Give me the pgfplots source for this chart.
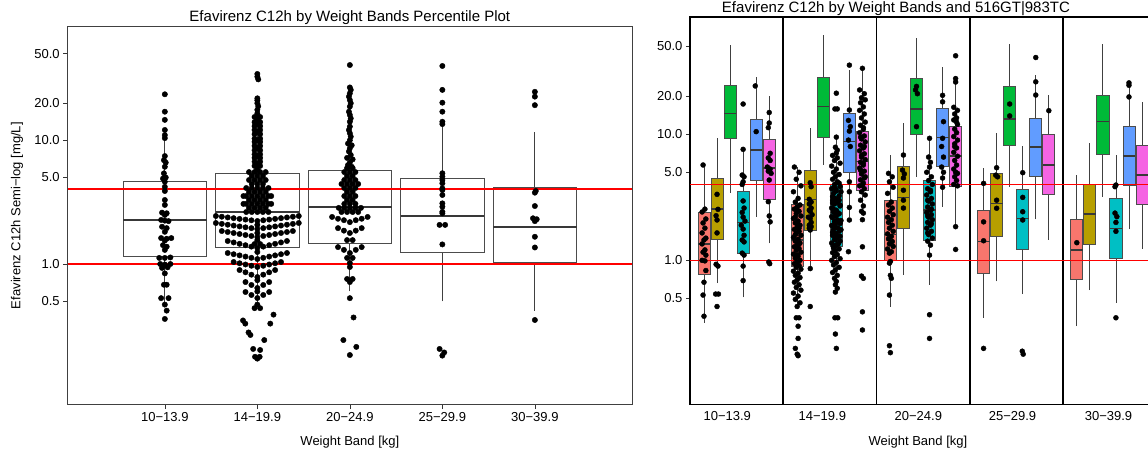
\documentclass[border=0pt]{standalone}
\usepackage{fontspec}
\setmainfont{Liberation Sans}
\usepackage{pgfplots}
\pgfplotsset{compat=1.18}
\definecolor{gtred}{HTML}{F8766D}
\definecolor{gtolive}{HTML}{B79F00}
\definecolor{gtgreen}{HTML}{00BA38}
\definecolor{gtcyan}{HTML}{00BFC4}
\definecolor{gtblue}{HTML}{619CFF}
\definecolor{gtmag}{HTML}{F564E3}
\definecolor{refline}{RGB}{255,0,0}
\newcommand{\tickfont}{\fontsize{13}{15}\selectfont}
\newcommand{\titlefont}{\fontsize{15}{18}\selectfont}
% box with whiskers: fill, position, half width, lw, q1, median, q3, uw, median line width
\newcommand{\bx}[9]{%
  \pgfmathsetmacro\xa{#2-#3}\pgfmathsetmacro\xb{#2+#3}%
  \addplot[draw=black!75, line width=0.8pt] coordinates {(#2,#4) (#2,#5)};
  \addplot[draw=black!75, line width=0.8pt] coordinates {(#2,#7) (#2,#8)};
  \addplot[draw=black!70, fill=#1, line width=0.8pt] coordinates {(\xa,#5) (\xb,#5) (\xb,#7) (\xa,#7)} --cycle;
  \addplot[draw=black!78, line width=#9] coordinates {(\xa,#6) (\xb,#6)};
}
\newcommand{\gbox}[7]{\bx{#1}{#2}{0.065}{#3}{#4}{#5}{#6}{#7}{1.6pt}}
\begin{document}
\begin{tikzpicture}
\pgfplotsset{
  every tick label/.append style={font=\tickfont},
  /pgf/number format/assume math mode=true,
  every axis title shift=0pt,
}
% ---------------- left panel ----------------
\begin{axis}[
  scale only axis, width=564.3pt, height=377.8pt, at={(67.7pt,46.5pt)}, anchor=south west,
  ymode=log, ymin=0.0733, ymax=82.6, xmin=-0.05, xmax=6.05,
  xtick={1,2,3,4,5}, xticklabels={10−13.9,14−19.9,20−24.9,25−29.9,30−39.9},
  ytick={0.5,1,5,10,20,50}, yticklabels={0.5,1.0,5.0,10.0,20.0,50.0},
  yminorticks=false, tick align=outside, xtick pos=bottom, ytick pos=left,
  major tick length=4.5pt, tick style={black!80, line width=0.6pt},
  axis line style={black!75, line width=0.8pt},
  title={Efavirenz C12h by Weight Bands Percentile Plot},
  title style={font=\titlefont, at={(axis description cs:0.5,1.0132)}, anchor=base},
  xlabel={Weight Band [kg]},
  xlabel style={font=\tickfont, at={(axis description cs:0.5,-0.1072)}, anchor=base},
  ylabel={Efavirenz C12h Semi−log [mg/L]},
  ylabel style={font=\tickfont, at={(axis description cs:-0.0898,0.5)}, anchor=center},
]
\bx{none}{1}{0.452}{0.47}{1.16}{2.28}{4.66}{10.4}{2.2pt}
\bx{none}{2}{0.452}{0.45}{1.35}{2.63}{5.36}{15.5}{2.2pt}
\bx{none}{3}{0.452}{0.6}{1.46}{2.87}{5.71}{14}{2.2pt}
\bx{none}{4}{0.452}{0.5}{1.23}{2.46}{4.92}{13.7}{2.2pt}
\bx{none}{5}{0.452}{0.42}{1.04}{2.0}{4.13}{11.6}{2.2pt}
\addplot[draw=refline, line width=2pt] coordinates {(-0.05,4) (0.5,4) (1.5,4) (2.5,4) (3.5,4) (4.5,4) (6.05,4)};

% 10-13.9
\addplot[only marks, mark=*, mark size=2.7pt, black] coordinates {
(1.00,23.5) (1.00,17.0) (1.00,14.6) (1.00,12.1) (1.00,11.0) (1.00,10.4) (1.00,7.45) (0.99,6.9)
(1.01,6.6) (1.00,6.1) (0.99,5.4) (1.01,5.0) (0.98,4.9) (1.00,4.62) (1.00,4.2) (1.00,3.89)
(1.00,3.29) (1.00,3.0) (0.97,2.6) (1.02,2.57) (1.0,2.49) (0.96,2.27) (1.00,2.24) (1.04,2.22)
(0.97,2.0) (1.02,1.95) (1.0,1.82) (0.96,1.62) (1.02,1.6) (1.07,1.62) (1.0,1.55) (0.98,1.42)
(1.02,1.38) (1.0,1.3) (0.94,1.12) (1.0,1.12) (1.06,1.13) (0.95,1.0) (1.0,0.99) (1.06,1.0)
(0.97,0.93) (1.03,0.94) (1.0,0.84) (0.99,0.68) (1.02,0.68) (0.96,0.53) (1.04,0.53) (1.0,0.47)
(1.02,0.42) (1.0,0.36)
};
% 14-19.9
\addplot[only marks, mark=*, mark size=2.7pt, black] coordinates {
(2.00,34.3) (2.00,32.6) (2.01,31.0)
(2.00,21.8) (2.00,21.0) (2.00,19.9) (2.01,18.8) (2.00,17.6) (2.00,16.5) (1.97,15.4) (2.03,15.4) (2.00,14.9)
(1.97,14.0) (2.03,14.0) (1.97,13.0) (2.03,13.0) (1.97,12.1) (2.03,12.1) (1.97,11.2) (2.03,11.2)
(1.97,10.3) (2.03,10.3) (1.97,9.7) (2.03,9.7) (1.97,9.0) (2.03,9.0) (1.97,8.3) (2.03,8.3)
(1.97,7.7) (2.03,7.7) (1.97,7.2) (2.03,7.2) (1.97,6.7) (2.03,6.7) (1.97,6.2) (2.03,6.2)
(2.00,13.5) (2.00,11.7) (2.00,10.0) (2.00,8.6) (2.00,7.45) (2.00,6.45) (2.00,5.8)
(1.91,5.53) (1.97,5.53) (2.03,5.53) (2.09,5.53)
(1.94,5.14) (2.00,5.14) (2.06,5.14)
(1.91,4.77) (1.97,4.77) (2.03,4.77) (2.09,4.77)
(1.94,4.43) (2.00,4.43) (2.06,4.43)
(1.88,4.11) (1.94,4.11) (2.00,4.11) (2.06,4.11) (2.12,4.11)
(1.91,3.82) (1.97,3.82) (2.03,3.82) (2.09,3.82)
(1.85,3.54) (1.88,3.54) (1.94,3.54) (2.00,3.54) (2.06,3.54) (2.12,3.54) (2.15,3.54)
(1.91,3.29) (1.97,3.29) (2.03,3.29) (2.09,3.29)
(1.85,3.06) (1.88,3.06) (1.94,3.06) (2.00,3.06) (2.06,3.06) (2.12,3.06) (2.15,3.06)
(1.91,2.84) (1.97,2.84) (2.03,2.84) (2.09,2.84)
(1.88,2.63) (1.94,2.63) (2.00,2.63) (2.06,2.63) (2.12,2.63)
(2.000,2.225) (1.936,2.255) (2.064,2.255) (1.872,2.285) (2.128,2.285) (1.808,2.315) (2.192,2.315)
(1.744,2.346) (2.256,2.346) (1.680,2.378) (2.320,2.378) (1.616,2.410) (2.384,2.410) (1.552,2.442) (2.448,2.442)
(2.000,1.918) (1.936,1.949) (2.064,1.949) (1.872,1.980) (2.128,1.980) (1.808,2.012) (2.192,2.012)
(1.744,2.044) (2.256,2.044) (1.680,2.077) (2.320,2.077) (1.616,2.110) (2.384,2.110) (1.552,2.144) (2.448,2.144)
(2.000,1.652) (1.936,1.684) (2.064,1.684) (1.872,1.715) (2.128,1.715) (1.808,1.747) (2.192,1.747)
(1.744,1.780) (2.256,1.780) (1.680,1.814) (2.320,1.814) (1.616,1.847) (2.384,1.847)
(2.000,1.347) (1.936,1.382) (2.064,1.382) (1.872,1.419) (2.128,1.419) (1.808,1.456) (2.192,1.456)
(1.744,1.494) (2.256,1.494) (1.680,1.534) (2.320,1.534)
(2.000,1.097) (1.936,1.122) (2.064,1.122) (1.872,1.148) (2.128,1.148) (1.808,1.174) (2.192,1.174)
(1.744,1.200) (2.256,1.200) (1.680,1.227) (2.320,1.227)
(2.000,0.946) (1.936,0.968) (2.064,0.968) (1.872,0.991) (2.128,0.991) (1.808,1.014) (2.192,1.014)
(1.744,1.038) (2.256,1.038)
(2.000,0.785) (1.936,0.820) (2.064,0.820) (1.872,0.857) (2.128,0.857) (1.808,0.894) (2.192,0.894)
(2.000,0.640) (1.936,0.677) (2.064,0.677) (1.872,0.715) (2.128,0.715)
(2.000,0.531) (1.936,0.562) (2.064,0.562) (1.872,0.594) (2.128,0.594)
(2.0,2.07) (2.0,1.78) (2.0,1.56) (1.97,1.45) (2.03,1.45) (2.0,1.25) (2.0,0.74) (2.0,0.60)
(2.00,0.47) (1.97,0.44) (2.03,0.44) (1.845,0.35) (1.87,0.33) (2.14,0.33) (2.175,0.39)
(1.905,0.28) (1.925,0.267) (2.075,0.243) (1.955,0.206) (2.03,0.202) (1.975,0.178) (2.00,0.172) (2.025,0.178)
};
% 20-24.9
\addplot[only marks, mark=*, mark size=2.7pt, black] coordinates {
(3.00,40.5)
(3.00,26.7) (3.01,25.5) (3.00,23.9) (2.99,22.5) (3.00,21.1) (3.01,19.9) (3.00,18.7) (2.99,17.0)
(3.00,16.0) (3.01,15.0) (3.00,14.1) (3.00,12.9) (2.99,12.1) (3.00,11.4) (3.01,10.7) (3.00,10.0)
(2.98,9.4) (3.02,9.1) (3.00,8.6) (2.99,8.1) (3.01,7.6) (2.97,7.2) (3.03,7.0) (3.00,6.6) (2.98,6.3) (3.02,6.1)
(2.97,5.96) (3.03,5.96)
(2.94,5.53) (3.00,5.53) (3.06,5.53)
(2.97,5.14) (3.03,5.14)
(2.94,4.77) (3.00,4.77) (3.06,4.77)
(2.91,4.43) (2.97,4.43) (3.03,4.43) (3.09,4.43)
(2.94,4.11) (3.00,4.11) (3.06,4.11)
(2.97,3.82) (3.03,3.82)
(2.94,3.54) (3.00,3.54) (3.06,3.54)
(2.97,3.29) (3.03,3.29)
(2.94,3.06) (3.00,3.06) (3.06,3.06)
(2.88,2.84) (2.94,2.84) (3.00,2.84) (3.06,2.84) (3.12,2.84)
(2.91,2.63) (2.97,2.63) (3.03,2.63) (3.09,2.63)
(3.000,2.18) (2.936,2.26) (3.064,2.26) (2.872,2.32) (3.128,2.32) (2.808,2.40) (3.192,2.40)
(3.000,1.78) (2.936,1.86) (3.064,1.86) (2.872,1.95) (3.128,1.95)
(2.97,1.56) (3.03,1.56)
(3.000,1.227) (2.936,1.30) (3.064,1.30) (2.872,1.37) (3.128,1.37)
(2.97,1.12) (3.03,1.12) (3.00,1.02) (3.00,0.946)
(2.97,0.757) (3.03,0.757) (3.00,0.715)
(3.00,0.53) (3.04,0.37) (2.93,0.243) (3.07,0.214) (3.00,0.184)
};
% 25-29.9
\addplot[only marks, mark=*, mark size=2.7pt, black] coordinates {
(4,39.8) (4,25.5) (4,20.1) (4,17.0) (4,14.1) (4,13.5) (4,5.41) (4,5.07) (4,4.77) (4,4.49)
(4,4.08) (4,3.96) (4,3.61) (4,3.09) (4,2.9) (4,2.64) (4,2.57) (3.97,2.07) (4.03,2.07) (4,1.44)
(3.97,0.206) (4.02,0.193) (4,0.182)
};
% 30-39.9
\addplot[only marks, mark=*, mark size=2.7pt, black] coordinates {
(5,24.6) (5,22.5) (5,19.2) (5.01,3.89) (5,3.77) (5,2.94) (4.98,2.34) (5.02,2.3) (5,2.22)
(5,1.66) (5,1.36) (5,0.353)
};
\addplot[draw=refline, line width=1.5pt] coordinates {(-0.05,1) (6.05,1)};
\end{axis}

% ---------------- right panel ----------------
\begin{axis}[
  scale only axis, width=466pt, height=387.6pt, at={(690pt,46.7pt)}, anchor=south west,
  ymode=log, ymin=0.072, ymax=85.8, xmin=0, xmax=5,
  xtick={0.40,1.42,2.45,3.46,4.49}, xticklabels={10−13.9,14−19.9,20−24.9,25−29.9,30−39.9},
  xtick style={draw=none},
  ytick={0.5,1,5,10,20,50}, yticklabels={0.5,1.0,5.0,10.0,20.0,50.0},
  yminorticks=false, tick align=outside, ytick pos=left,
  major tick length=4pt, tick style={black!80, line width=0.6pt},
  axis line style={black, line width=1.6pt},
  title={Efavirenz C12h by Weight Bands and 516GT|983TC},
  title style={font=\titlefont, at={(axis description cs:0.442,1.0105)}, anchor=base},
  xlabel={Weight Band [kg]},
  xlabel style={font=\tickfont, at={(axis description cs:0.489,-0.105)}, anchor=base},
]
% panel borders
\addplot[black, line width=1.8pt] coordinates {(1,0.072) (1,85.8)};
\addplot[black, line width=1.8pt] coordinates {(2,0.072) (2,85.8)};
\addplot[black, line width=1.8pt] coordinates {(3,0.072) (3,85.8)};
\addplot[black, line width=1.8pt] coordinates {(4,0.072) (4,85.8)};
% 10-13.9
\gbox{gtred}{0.15}{0.32}{0.774}{1.35}{2.39}{5.71}
\gbox{gtolive}{0.29}{0.66}{1.47}{2.55}{4.47}{9.3}
\gbox{gtgreen}{0.43}{3.44}{9.23}{14.6}{24.5}{51}
\gbox{gtcyan}{0.57}{0.508}{1.14}{1.99}{3.55}{7.74}
\gbox{gtblue}{0.71}{2.22}{4.31}{7.55}{13.2}{28.3}
\gbox{gtmag}{0.85}{1.36}{3.07}{5.43}{9.18}{20.2}
% 14-19.9
\gbox{gtred}{1.15}{0.45}{0.90}{1.45}{2.78}{5.5}
\gbox{gtolive}{1.29}{0.86}{1.74}{3.05}{5.21}{11.2}
\gbox{gtgreen}{1.43}{5.71}{9.4}{16.6}{28.3}{61}
\gbox{gtcyan}{1.57}{0.55}{1.3}{2.4}{4.01}{9.6}
\gbox{gtblue}{1.71}{2.22}{4.96}{8.74}{14.7}{32.4}
\gbox{gtmag}{1.85}{2.37}{3.61}{6.1}{10.6}{33.4}
% 20-24.9
\gbox{gtred}{2.15}{0.43}{1.0}{1.6}{3.01}{6.85}
\gbox{gtolive}{2.29}{0.765}{1.79}{3.16}{5.53}{12.2}
\gbox{gtgreen}{2.43}{4.6}{10.0}{15.8}{27.8}{57.8}
\gbox{gtcyan}{2.57}{0.64}{1.43}{2.5}{4.34}{9.45}
\gbox{gtblue}{2.71}{2.66}{5.53}{9.46}{16.1}{34.4}
\gbox{gtmag}{2.85}{1.85}{3.89}{6.73}{11.5}{27.7}
% 25-29.9
\gbox{gtred}{3.15}{0.35}{0.79}{1.41}{2.51}{5.43}
\gbox{gtolive}{3.29}{0.68}{1.54}{2.83}{4.9}{10.2}
\gbox{gtgreen}{3.43}{3.84}{8.13}{13.2}{23.9}{51.8}
\gbox{gtcyan}{3.57}{0.54}{1.22}{2.15}{3.68}{8.07}
\gbox{gtblue}{3.71}{2.11}{4.67}{7.9}{13.4}{29.6}
\gbox{gtmag}{3.85}{1.45}{3.34}{5.71}{10}{20.4}
% 30-39.9
\gbox{gtred}{4.15}{0.3}{0.7}{1.21}{2.11}{4.76}
\gbox{gtolive}{4.29}{0.58}{1.35}{2.32}{3.98}{8.58}
\gbox{gtgreen}{4.43}{3.2}{6.94}{12.6}{20.5}{52.3}
\gbox{gtcyan}{4.57}{0.46}{1.03}{1.79}{3.1}{6.85}
\gbox{gtblue}{4.71}{1.76}{3.96}{6.75}{11.5}{26}
\gbox{gtmag}{4.85}{1.24}{2.78}{4.76}{8.17}{18.1}

% observations, 10-13.9
\addplot[only marks, mark=*, mark size=2.5pt, black] coordinates {
(0.14,5.71) (0.16,2.55) (0.13,2.42) (0.17,2.13) (0.14,1.98) (0.16,1.80) (0.13,1.65) (0.17,1.50)
(0.15,1.45) (0.13,1.35) (0.16,1.21) (0.14,1.16) (0.17,1.10) (0.13,1.00) (0.16,0.99) (0.17,0.83)
(0.15,0.67) (0.14,0.53) (0.15,0.36)
(0.29,3.34) (0.30,2.54) (0.28,2.26) (0.29,2.09) (0.29,1.65) (0.28,0.93) (0.30,0.90) (0.275,0.54)
(0.305,0.54) (0.29,0.43)
(0.57,17.4) (0.57,7.6) (0.56,4.75) (0.58,4.6) (0.57,4.2) (0.56,4.0) (0.57,2.96) (0.58,2.6)
(0.56,2.4) (0.57,2.2) (0.59,2.05) (0.55,1.9) (0.57,1.77) (0.58,1.58) (0.56,1.45) (0.58,1.40)
(0.56,1.14) (0.58,1.10) (0.57,0.90) (0.57,0.69)
(0.70,24.2) (0.71,10.5)
(0.85,14.9) (0.85,12.3) (0.84,11.3) (0.86,7.07) (0.84,6.5) (0.86,6.2) (0.83,5.5) (0.86,5.3)
(0.84,5.1) (0.87,4.9) (0.85,4.34) (0.84,2.92) (0.85,2.25) (0.86,2.02) (0.845,0.97) (0.855,0.94)
};
% observations, 14-19.9
\addplot[only marks, mark=*, mark size=2.5pt, black] coordinates {
(1.12,5.5) (1.17,5.0) (1.14,4.4) (1.19,3.9) (1.11,3.5) (1.16,3.1) (1.13,2.9) (1.18,2.75) (1.15,2.65)
(1.12,2.55) (1.17,2.45) (1.14,2.35) (1.19,2.25) (1.11,2.15) (1.16,2.05) (1.13,1.98) (1.18,1.9) (1.15,1.83)
(1.12,1.76) (1.17,1.7) (1.14,1.64) (1.19,1.58) (1.11,1.52) (1.16,1.47) (1.13,1.42) (1.18,1.37) (1.15,1.32)
(1.12,1.28) (1.17,1.24) (1.14,1.2) (1.19,1.16) (1.11,1.12) (1.16,1.08) (1.13,1.04) (1.18,1.0) (1.15,0.97)
(1.12,0.94) (1.17,0.91) (1.14,0.88) (1.19,0.85) (1.11,0.82) (1.16,0.79) (1.13,0.76) (1.18,0.73) (1.15,0.7)
(1.12,0.67) (1.17,0.64) (1.14,0.61) (1.19,0.58) (1.11,0.55) (1.16,0.52) (1.13,0.49) (1.18,0.46) (1.15,0.43)
(1.14,0.35) (1.17,0.35) (1.16,0.30) (1.16,0.24) (1.13,0.20) (1.15,0.18) (1.16,0.175)
(1.15,2.5) (1.15,2.0) (1.13,1.6) (1.17,1.35) (1.15,1.1) (1.13,2.2) (1.17,1.8)
(1.29,4.13) (1.30,3.84) (1.28,3.05) (1.30,2.9) (1.28,2.8) (1.30,2.6) (1.28,2.5) (1.29,2.45) (1.31,2.3)
(1.27,2.2) (1.29,2.15) (1.30,2.0) (1.28,1.9) (1.30,1.85) (1.28,1.8) (1.29,1.74) (1.29,0.86) (1.29,0.43)
(1.57,21.2) (1.555,15.9) (1.58,15.9) (1.57,9.5) (1.56,7.9) (1.58,7.5) (1.57,7.1)
(1.53,6.8) (1.58,6.5) (1.55,6.2) (1.61,5.9) (1.52,5.6) (1.57,5.3) (1.54,5.0) (1.60,4.8) (1.56,4.6)
(1.53,4.4) (1.58,4.2) (1.55,4.0) (1.61,3.85) (1.52,3.7) (1.57,3.55) (1.54,3.4) (1.60,3.25) (1.56,3.1)
(1.53,3.0) (1.58,2.9) (1.55,2.8) (1.61,2.7) (1.52,2.6) (1.57,2.5) (1.54,2.42) (1.60,2.34) (1.56,2.26)
(1.53,2.18) (1.58,2.1) (1.55,2.03) (1.61,1.96) (1.52,1.89) (1.57,1.82) (1.54,1.76) (1.60,1.7) (1.56,1.64)
(1.53,1.58) (1.58,1.52) (1.55,1.47) (1.61,1.42) (1.52,1.37) (1.57,1.32) (1.54,1.27) (1.60,1.23) (1.56,1.19)
(1.53,1.15) (1.58,1.11) (1.55,1.07) (1.61,1.03) (1.52,1.0) (1.57,0.96) (1.54,0.92) (1.60,0.88) (1.56,0.84)
(1.53,0.8) (1.58,0.76) (1.55,0.72) (1.57,0.68) (1.56,0.64) (1.58,0.6) (1.56,0.56)
(1.60,4.1) (1.55,3.8) (1.62,3.5) (1.53,3.2) (1.58,2.95) (1.61,2.75) (1.54,2.55) (1.59,2.38) (1.52,2.22)
(1.62,2.07) (1.55,1.93) (1.59,1.8) (1.53,1.67) (1.61,1.55) (1.56,1.45) (1.59,1.35) (1.54,1.25)
(1.565,3.65) (1.60,3.0) (1.545,2.46) (1.585,2.0) (1.57,1.6) (1.55,1.3) (1.62,1.75) (1.575,2.3) (1.53,2.85)
(1.555,0.35) (1.585,0.35) (1.56,0.26) (1.57,0.20)
(1.71,35.4) (1.71,15.6) (1.70,12.9) (1.72,11.5) (1.71,10.6) (1.70,9.0) (1.72,8.0) (1.71,4.2)
(1.71,3.5) (1.71,2.63) (1.71,2.09) (1.70,1.17)
(1.85,33.4) (1.82,22.5) (1.87,21) (1.84,19.5) (1.88,18.8) (1.83,17.8) (1.86,16.5)
(1.82,15.5) (1.87,14.5) (1.84,13.5) (1.88,12.5) (1.83,11.8) (1.86,11)
(1.82,10.3) (1.87,9.7) (1.84,9.2) (1.88,8.7) (1.83,8.2) (1.86,7.8)
(1.82,7.4) (1.87,7.0) (1.84,6.6) (1.88,6.3) (1.83,6.0) (1.86,5.7)
(1.82,5.4) (1.87,5.1) (1.84,4.85) (1.88,4.6) (1.83,4.35) (1.86,4.1)
(1.82,3.9) (1.87,3.7) (1.84,3.5) (1.88,3.3) (1.83,3.0) (1.86,2.7)
(1.84,2.45) (1.86,2.37) (1.85,2.1) (1.85,1.28) (1.84,0.75) (1.86,0.72) (1.85,0.39) (1.85,0.28)
(1.86,11.3) (1.83,9.5) (1.87,8.0) (1.84,6.8) (1.86,5.9) (1.83,5.2) (1.87,4.5) (1.85,3.95)
};
% observations, 20-24.9
\addplot[only marks, mark=*, mark size=2.5pt, black] coordinates {
(2.13,4.9) (2.17,4.6) (2.14,4.2) (2.18,3.8) (2.12,3.4) (2.16,2.9)
(2.13,2.75) (2.17,2.6) (2.14,2.45) (2.18,2.3) (2.12,2.2) (2.16,2.1)
(2.13,2.0) (2.17,1.9) (2.14,1.8) (2.18,1.7) (2.12,1.62) (2.16,1.55)
(2.13,1.48) (2.17,1.41) (2.14,1.35) (2.18,1.29) (2.12,1.23) (2.16,1.17)
(2.14,1.14) (2.15,0.98) (2.14,0.95) (2.15,0.76) (2.16,0.72) (2.14,0.53) (2.14,0.21) (2.15,0.185)
(2.29,6.85) (2.28,5.2) (2.30,4.85) (2.29,4.5) (2.29,3.6) (2.29,3.0) (2.29,2.6)
(2.43,24) (2.42,22.5) (2.44,21) (2.43,11.5)
(2.57,9.3) (2.56,6.6) (2.58,6.0) (2.57,5.5)
(2.54,5.0) (2.59,4.6) (2.56,4.3) (2.60,4.0) (2.55,3.7) (2.58,3.5)
(2.54,3.3) (2.59,3.1) (2.56,2.95) (2.60,2.8) (2.55,2.65) (2.58,2.5)
(2.54,2.4) (2.59,2.3) (2.56,2.2) (2.60,2.1) (2.55,2.0) (2.58,1.9)
(2.54,1.8) (2.59,1.7) (2.56,1.6) (2.60,1.5) (2.55,1.42) (2.58,1.32)
(2.57,1.1) (2.57,0.37) (2.57,0.24)
(2.58,3.6) (2.55,3.0) (2.59,2.55) (2.55,2.25) (2.59,1.95) (2.55,1.65)
(2.71,20.4) (2.71,18.1) (2.72,12.6) (2.71,9.3) (2.70,8.0) (2.72,6.6) (2.70,5.5) (2.72,5.0)
(2.71,4.5) (2.71,3.8)
(2.85,42) (2.85,27.7) (2.85,26) (2.83,16.4) (2.87,15.5) (2.84,14.5) (2.86,13.5) (2.83,13.0)
(2.87,12) (2.84,11) (2.86,10.3) (2.83,9.6) (2.87,9) (2.84,8.4) (2.86,7.8) (2.83,7.2) (2.87,6.7)
(2.84,6.2) (2.86,5.7) (2.83,5.3) (2.87,4.9) (2.84,4.6) (2.86,4.3) (2.83,4.0) (2.87,3.9)
(2.85,1.85) (2.85,1.22) (2.86,12.5) (2.84,8.0) (2.85,5.0)
};
% observations, 25-29.9 and 30-39.9
\addplot[only marks, mark=*, mark size=2.5pt, black] coordinates {
(3.15,4.08) (3.15,2.02) (3.15,1.43) (3.15,0.2)
(3.29,5.43) (3.28,4.74) (3.30,4.6) (3.29,3.0) (3.29,2.59)
(3.43,17.4) (3.43,14)
(3.57,4.96) (3.57,3.16) (3.57,2.43) (3.57,2.09) (3.565,0.19) (3.575,0.18)
(3.71,40.7) (3.71,26.1) (3.71,20.5)
(3.85,15.4)
(4.15,1.38)
(4.57,3.96) (4.56,3.84) (4.56,2.37) (4.58,2.22) (4.57,2.0) (4.57,1.7) (4.57,0.35)
(4.71,25.6) (4.71,24.5) (4.71,19.8)
};
\addplot[draw=refline, line width=1.4pt] coordinates {(0,4) (5,4)};
\addplot[draw=refline, line width=1.4pt] coordinates {(0,1) (5,1)};
\end{axis}
\pgfresetboundingbox
\path[use as bounding box] (0pt,0pt) rectangle (1148pt,451pt);
\end{tikzpicture}
\end{document}
